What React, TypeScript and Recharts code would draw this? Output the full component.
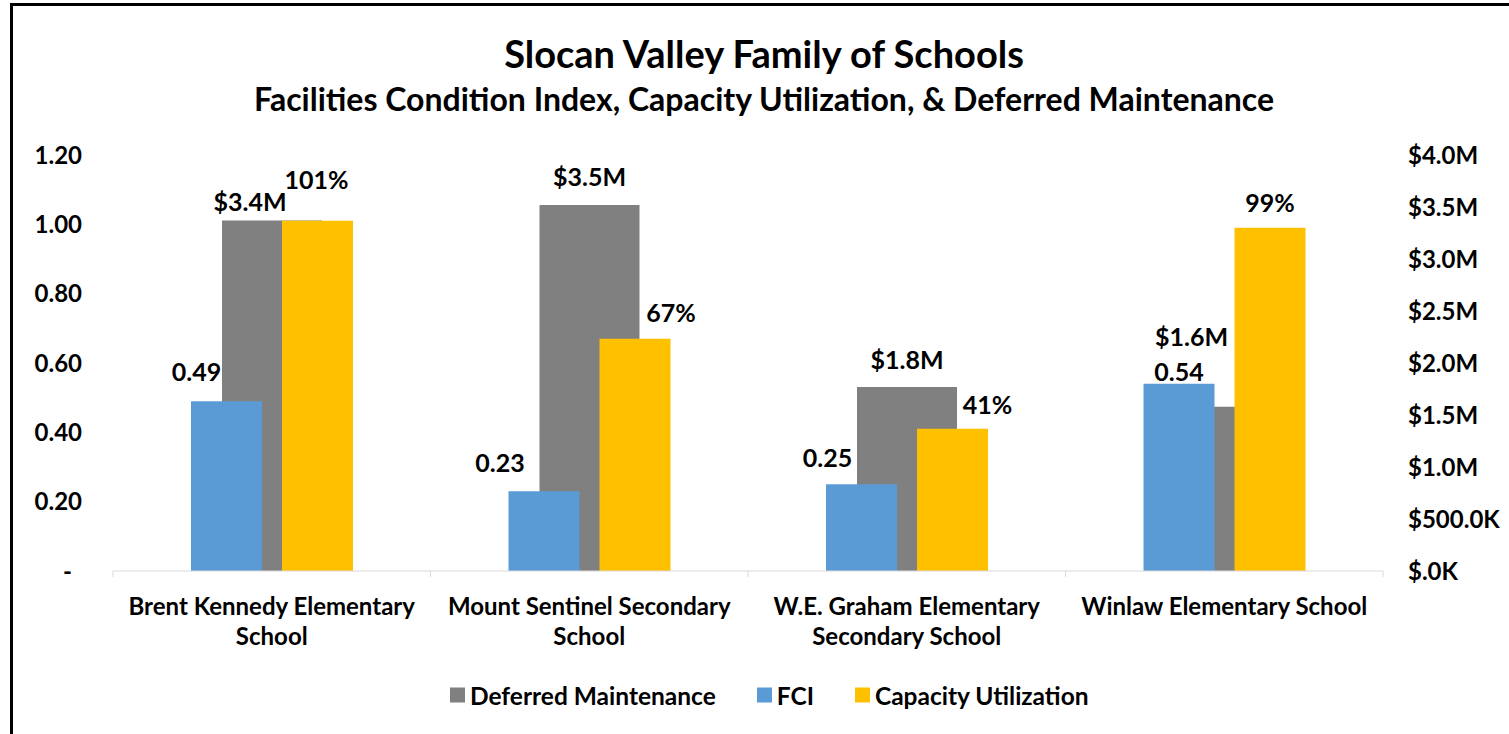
import { BarChart, Bar, XAxis, YAxis, LabelList } from "recharts";

// ---- data ----
const schools = [
  "Brent Kennedy Elementary School",
  "Mount Sentinel Secondary School",
  "W.E. Graham Elementary Secondary School",
  "Winlaw Elementary School",
];
const schoolLabelLines = [
  ["Brent Kennedy Elementary", "School"],
  ["Mount Sentinel Secondary", "School"],
  ["W.E. Graham Elementary", "Secondary School"],
  ["Winlaw Elementary School"],
];
const deferredMaintenance = [3370000, 3520000, 1770000, 1580000];
const fci = [0.49, 0.23, 0.25, 0.54];
const capacityUtilization = [1.01, 0.67, 0.41, 0.99];
const leftTicks = [0, 0.2, 0.4, 0.6, 0.8, 1.0, 1.2];
const rightTicks = [0, 500000, 1000000, 1500000, 2000000, 2500000, 3000000, 3500000, 4000000];

// hand-placed label nudges (dx, dy of label centre from bar top centre)
const greyNudge = [[-22, -18], [0, -28], [0, -27], [-33, -70]];
const blueNudge = [[-30, -29], [-44, -28], [-34, -26], [0, -12]];
const yellowNudge = [[-1, -41], [36, -26], [35, -24], [0, -25]];

const W = 1509;
const H = 734;
const PLOT_LEFT = 113;
const PLOT_RIGHT = 1383;
const PLOT_TOP = 155;
const PLOT_BOTTOM = 571;
const BAND = (PLOT_RIGHT - PLOT_LEFT) / schools.length;

const GREY = "#808080";
const BLUE = "#5b9bd5";
const YELLOW = "#ffc000";
const AXIS = "#d9d9d9";
const FONT = "Lato, 'Noto Sans', sans-serif";

const data = schools.map((name, i) => ({
  name,
  deferred: deferredMaintenance[i],
  fci: fci[i],
  capacity: capacityUtilization[i],
}));

const money = (v: number) => {
  if (v === 0) return "$.0K";
  if (v < 1000000) return `$${(v / 1000).toFixed(1)}K`;
  return `$${(v / 1000000).toFixed(1)}M`;
};

const makeLabel =
  (nudge: number[][], fmt: (v: number) => string) =>
  (p: any) => {
    const [dx, dy] = nudge[p.index] ?? [0, -20];
    const cx = Number(p.x) + Number(p.width) / 2 + dx;
    const cy = Number(p.y) + dy;
    return (
      <text
        x={cx}
        y={cy}
        dy="0.355em"
        textAnchor="middle"
        fontFamily={FONT}
        fontWeight={700}
        fontSize={25}
        fill="#000"
      >
        {fmt(Number(p.value))}
      </text>
    );
  };

const SchoolTick = (p: any) => {
  const lines = schoolLabelLines[p.index] ?? [p.payload.value];
  const left = p.x - BAND / 2;
  return (
    <g>
      <line x1={left} y1={p.y} x2={left} y2={p.y + 6} stroke={AXIS} />
      {p.index === schools.length - 1 && (
        <line x1={p.x + BAND / 2} y1={p.y} x2={p.x + BAND / 2} y2={p.y + 6} stroke={AXIS} />
      )}
      {lines.map((t: string, k: number) => (
        <text
          key={k}
          x={p.x}
          y={p.y + 35 + k * 30}
          dy="0.355em"
          textAnchor="middle"
          fontFamily={FONT}
          fontWeight={700}
          fontSize={24}
          fill="#000"
        >
          {t}
        </text>
      ))}
    </g>
  );
};

const LeftTick = (p: any) => {
  const v = Number(p.payload.value);
  return (
    <text
      x={v === 0 ? p.x - 10 : p.x}
      y={p.y}
      dy="0.355em"
      textAnchor="end"
      fontFamily={FONT}
      fontWeight={700}
      fontSize={24}
      fill="#000"
    >
      {v === 0 ? "-" : v.toFixed(2)}
    </text>
  );
};

const RightTick = (p: any) => (
  <text
    x={p.x}
    y={p.y}
    dy="0.355em"
    textAnchor="start"
    fontFamily={FONT}
    fontWeight={700}
    fontSize={24}
    fill="#000"
  >
    {money(Number(p.payload.value))}
  </text>
);

const legendItems = [
  { name: "Deferred Maintenance", color: GREY },
  { name: "FCI", color: BLUE },
  { name: "Capacity Utilization", color: YELLOW },
];

export default function App() {
  return (
    <div
      style={{
        position: "absolute",
        left: 0,
        top: 0,
        width: W,
        height: H,
        background: "#fff",
        fontFamily: FONT,
        overflow: "hidden",
      }}
    >
      {/* frame */}
      <div style={{ position: "absolute", left: 10, top: 3, width: 3, height: H, background: "#000" }} />
      <div style={{ position: "absolute", left: 10, top: 3, width: W, height: 3, background: "#000" }} />

      <div
        style={{
          position: "absolute",
          left: 764,
          top: 53,
          transform: "translate(-50%, -50%)",
          fontSize: 38,
          fontWeight: 700,
          whiteSpace: "nowrap",
          color: "#000",
        }}
      >
        Slocan Valley Family of Schools
      </div>
      <div
        style={{
          position: "absolute",
          left: 764,
          top: 98,
          transform: "translate(-50%, -50%)",
          fontSize: 32,
          fontWeight: 700,
          whiteSpace: "nowrap",
          color: "#000",
        }}
      >
        Facilities Condition Index, Capacity Utilization, &amp; Deferred Maintenance
      </div>

      <div style={{ position: "absolute", left: 0, top: 0 }}>
        <BarChart
          width={W}
          height={H}
          data={data}
          barGap={20}
          margin={{ top: PLOT_TOP, right: 0, left: 0, bottom: H - PLOT_BOTTOM - 80 }}
        >
          <XAxis
            xAxisId="main"
            dataKey="name"
            height={80}
            stroke={AXIS}
            tickLine={false}
            tickSize={0}
            tickMargin={0}
            interval={0}
            tick={<SchoolTick />}
          />
          <XAxis xAxisId="back" dataKey="name" hide height={0} />
          <YAxis
            yAxisId="left"
            orientation="left"
            width={PLOT_LEFT}
            domain={[0, 1.2]}
            ticks={leftTicks}
            axisLine={false}
            tickLine={false}
            tickSize={0}
            tickMargin={31}
            interval={0}
            tick={<LeftTick />}
          />
          <YAxis
            yAxisId="right"
            orientation="right"
            width={W - PLOT_RIGHT}
            domain={[0, 4000000]}
            ticks={rightTicks}
            axisLine={false}
            tickLine={false}
            tickSize={0}
            tickMargin={25}
            interval={0}
            tick={<RightTick />}
          />
          <Bar
            dataKey="deferred"
            name="Deferred Maintenance"
            xAxisId="back"
            yAxisId="right"
            barSize={100}
            fill={GREY}
            isAnimationActive={false}
          >
            <LabelList dataKey="deferred" content={makeLabel(greyNudge, money)} />
          </Bar>
          <Bar
            dataKey="fci"
            name="FCI"
            xAxisId="main"
            yAxisId="left"
            barSize={71}
            fill={BLUE}
            isAnimationActive={false}
          >
            <LabelList dataKey="fci" content={makeLabel(blueNudge, (v) => v.toFixed(2))} />
          </Bar>
          <Bar
            dataKey="capacity"
            name="Capacity Utilization"
            xAxisId="main"
            yAxisId="left"
            barSize={71}
            fill={YELLOW}
            isAnimationActive={false}
          >
            <LabelList
              dataKey="capacity"
              content={makeLabel(yellowNudge, (v) => `${Math.round(v * 100)}%`)}
            />
          </Bar>
        </BarChart>
      </div>

      {/* legend */}
      <div
        style={{
          position: "absolute",
          left: 450,
          top: 695,
          transform: "translateY(-50%)",
          display: "flex",
          alignItems: "center",
          fontSize: 24.5,
          fontWeight: 700,
          color: "#000",
          whiteSpace: "nowrap",
        }}
      >
        {legendItems.map((it, i) => (
          <div key={it.name} style={{ display: "flex", alignItems: "center", marginLeft: i === 0 ? 0 : 41 }}>
            <span style={{ display: "inline-block", width: 15, height: 15, background: it.color, marginRight: 5 }} />
            <span>{it.name}</span>
          </div>
        ))}
      </div>
    </div>
  );
}
